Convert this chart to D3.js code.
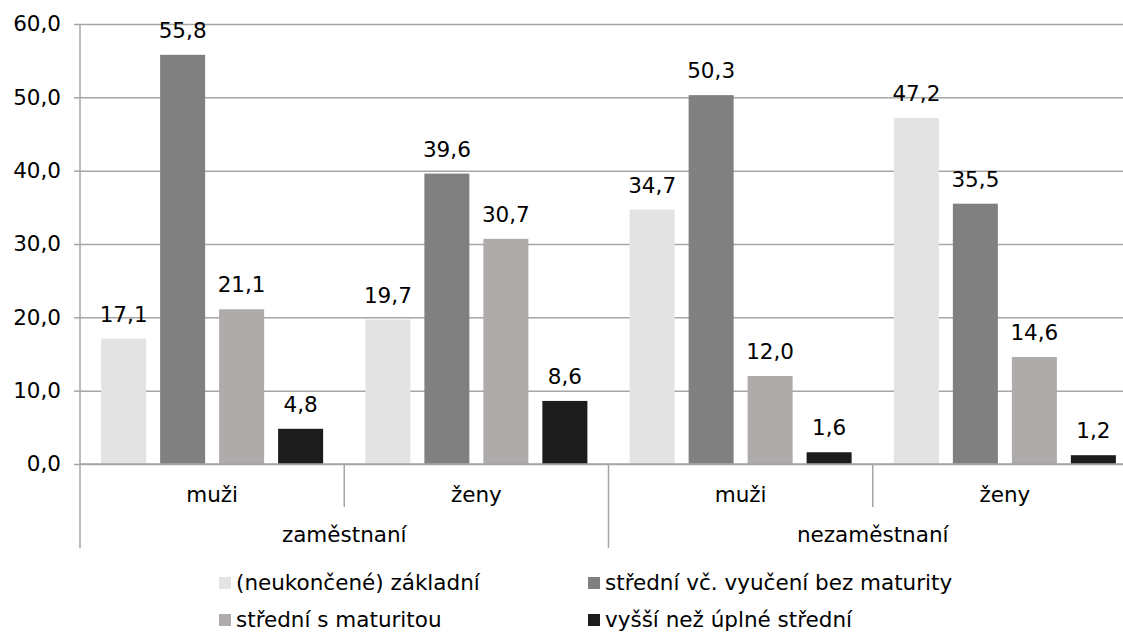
<!DOCTYPE html>
<html lang="cs">
<head>
    <meta charset="UTF-8">
    <title>Vzdělání zaměstnaných a nezaměstnaných</title>
    <script src="https://d3js.org/d3.v7.min.js"></script>
    <style>
        body { margin: 0; background: #fff; }
        svg { display: block; font-family: "DejaVu Sans", Verdana, sans-serif; }
        .lbl { font-size: 21.5px; fill: #000; }
        .axis path { display: none; }
        .axis line { stroke: #a6a6a6; stroke-width: 1.5; }
    </style>
</head>
<body>
    <svg width="1123" height="634"></svg>

    <script>
        // categories
        const groups = ["zaměstnaní", "nezaměstnaní"];
        const subgroups = ["muži", "ženy"];
        const seriesNames = [
            "(neukončené) základní",
            "střední vč. vyučení bez maturity",
            "střední s maturitou",
            "vyšší než úplné střední"
        ];
        const seriesColors = ["#e3e3e3", "#808080", "#afabaa", "#1c1c1c"];

        // values per series, order: zaměstnaní muži, ženy, nezaměstnaní muži, ženy
        const zakladni = [17.1, 19.7, 34.7, 47.2];
        const vyuceni = [55.8, 39.6, 50.3, 35.5];
        const maturita = [21.1, 30.7, 12.0, 14.6];
        const vyssi = [4.8, 8.6, 1.6, 1.2];
        const seriesValues = [zakladni, vyuceni, maturita, vyssi];

        const yTicks = [0, 10, 20, 30, 40, 50, 60];

        const plotLeft = 80, plotRight = 1137, plotTop = 24, plotBottom = 464;
        const svg = d3.select("svg");

        const x0 = d3.scaleBand().domain(groups).range([plotLeft, plotRight]);
        const x1 = d3.scaleBand().domain(subgroups).range([0, x0.bandwidth()]);
        const x2 = d3.scaleBand().domain(seriesNames).range([0, x1.bandwidth()])
                     .paddingInner(0.237).paddingOuter(0.358);
        const y = d3.scaleLinear().domain([0, 60]).range([plotBottom, plotTop]);

        const fmt = v => d3.format(".1f")(v).replace(".", ",");

        // gridlines
        svg.append("g")
           .attr("class", "axis")
           .attr("transform", `translate(${plotLeft},0)`)
           .call(d3.axisLeft(y).tickValues(yTicks).tickSize(-(plotRight - plotLeft)).tickFormat(""));

        // y axis with short ticks and labels
        const yAx = svg.append("g")
           .attr("class", "axis")
           .attr("transform", `translate(${plotLeft},0)`)
           .call(d3.axisLeft(y).tickValues(yTicks).tickSize(6).tickPadding(13).tickFormat(fmt));
        yAx.attr("font-family", null).attr("font-size", null);
        yAx.selectAll("text").attr("class", "lbl");

        // flattened rows
        const rows = [];
        groups.forEach((g, gi) => {
            subgroups.forEach((s, si) => {
                seriesNames.forEach((n, ni) => {
                    rows.push({ g, s, n, ni, v: seriesValues[ni][gi * subgroups.length + si] });
                });
            });
        });
        const xPos = d => x0(d.g) + x1(d.s) + x2(d.n);

        svg.selectAll(".bar")
           .data(rows)
           .enter().append("rect")
           .attr("class", "bar")
           .attr("x", xPos)
           .attr("y", d => y(d.v))
           .attr("width", x2.bandwidth())
           .attr("height", d => y(0) - y(d.v))
           .attr("fill", d => seriesColors[d.ni]);

        svg.selectAll(".val")
           .data(rows)
           .enter().append("text")
           .attr("class", "lbl")
           .attr("x", d => xPos(d) + x2.bandwidth() / 2)
           .attr("y", d => y(d.v) - 17)
           .attr("text-anchor", "middle")
           .text(d => fmt(d.v));

        // category axis: baseline, separators, labels
        const ax = svg.append("g").attr("stroke", "#a6a6a6").attr("stroke-width", 1.5);
        ax.append("line").attr("x1", plotLeft).attr("x2", plotRight).attr("y1", y(0)).attr("y2", y(0));
        ax.append("line").attr("x1", plotLeft).attr("x2", plotLeft).attr("y1", plotTop).attr("y2", 548);
        groups.forEach(g => {
            subgroups.forEach((s, si) => {
                if (si > 0) {
                    const xs = x0(g) + x1(s);
                    ax.append("line").attr("x1", xs).attr("x2", xs).attr("y1", y(0)).attr("y2", 507);
                }
            });
            const xe = x0(g) + x0.bandwidth();
            ax.append("line").attr("x1", xe).attr("x2", xe).attr("y1", y(0)).attr("y2", 548);
        });

        groups.forEach(g => {
            subgroups.forEach(s => {
                svg.append("text").attr("class", "lbl")
                   .attr("x", x0(g) + x1(s) + x1.bandwidth() / 2)
                   .attr("y", 502)
                   .attr("text-anchor", "middle")
                   .text(s);
            });
            svg.append("text").attr("class", "lbl")
               .attr("x", x0(g) + x0.bandwidth() / 2)
               .attr("y", 542)
               .attr("text-anchor", "middle")
               .text(g);
        });

        // legend, two columns
        const legX = [219, 588], legY = [577, 614];
        const leg = svg.selectAll(".leg")
           .data(seriesNames)
           .enter().append("g")
           .attr("class", "leg")
           .attr("transform", (d, i) => `translate(${legX[i % 2]},${legY[Math.floor(i / 2)]})`);
        leg.append("rect").attr("width", 12).attr("height", 12).attr("fill", (d, i) => seriesColors[i]);
        leg.append("text").attr("class", "lbl").attr("x", 17).attr("y", 13).text(d => d);
    </script>
</body>
</html>
